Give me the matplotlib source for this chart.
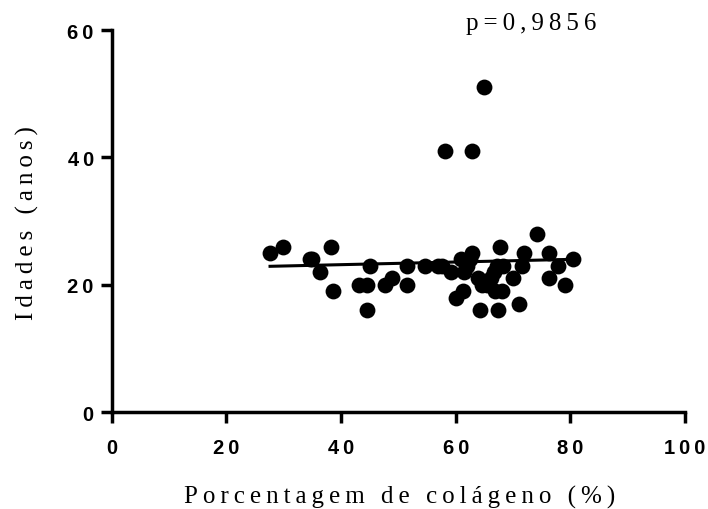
import numpy as np
import matplotlib
matplotlib.use("Agg")
import matplotlib.pyplot as plt

# Collagen percentage vs age
colageno = [27.6, 29.9, 34.5, 35.0, 36.4, 38.3, 38.5, 43.2, 44.6, 44.5,
            45.0, 47.6, 48.8, 51.5, 51.5, 54.6, 56.9, 58.1, 57.6, 59.2,
            60.1, 61.3, 60.9, 61.5, 61.9, 62.5, 62.8, 62.9, 65.0, 63.9,
            64.3, 64.5, 65.4, 66.2, 66.6, 66.8, 67.2, 67.7, 67.4, 68.0,
            68.2, 70.0, 71.0, 71.6, 71.9, 74.1, 76.3, 76.3, 77.8, 79.0,
            80.5]
idades = [25, 26, 24, 24, 22, 26, 19, 20, 20, 16,
          23, 20, 21, 23, 20, 23, 23, 41, 23, 22,
          18, 19, 24, 22, 23, 24, 25, 41, 51, 21,
          16, 20, 20, 21, 22, 19, 23, 26, 16, 19,
          23, 21, 17, 23, 25, 28, 21, 25, 23, 20,
          24]

# Linear regression line end points
reta_x = [27.6, 80.6]
reta_y = [22.9, 24.0]

x_ticks = [0, 20, 40, 60, 80, 100]
y_ticks = [0, 20, 40, 60]
x_label = "Porcentagem de colágeno (%)"
y_label = "Idades (anos)"
p_text = "p=0,9856"

THIN = "\u2009"


def tracked(s):
    return THIN.join(s)


fig = plt.figure(figsize=(7.08, 5.10), dpi=100)
ax = fig.add_axes([0.158, 0.190, 0.8095, 0.749])

ax.scatter(colageno, idades, s=130, color="black", zorder=3, linewidths=0)
ax.plot(reta_x, reta_y, color="black", lw=2.2, zorder=2)

ax.set_xlim(0, 100)
ax.set_ylim(0, 60)
for side in ("top", "right"):
    ax.spines[side].set_visible(False)
for side in ("left", "bottom"):
    ax.spines[side].set_linewidth(2.5)
    ax.spines[side].set_capstyle("projecting")
ax.tick_params(axis="x", direction="out", length=8, width=2.5, pad=11)
ax.tick_params(axis="y", direction="out", length=8, width=2.5, pad=5)
ax.set_xticks(x_ticks)
ax.set_yticks(y_ticks)
tick_font = dict(family="Liberation Sans", weight="bold", size=14.5)
ax.set_xticklabels([tracked(str(t)) for t in x_ticks], **tick_font)
ax.set_yticklabels([tracked(str(t)) for t in y_ticks], **tick_font)

label_font = dict(family="Liberation Serif", size=18)
ax.set_xlabel(tracked(x_label), **label_font)
ax.xaxis.label.set_verticalalignment("baseline")
ax.xaxis.set_label_coords(0.5026, -0.2356)

ax.set_ylabel(tracked(y_label), rotation_mode="anchor", **label_font)
ax.yaxis.label.set_verticalalignment("baseline")
ax.yaxis.label.set_horizontalalignment("center")
ax.yaxis.set_label_coords(-0.137, 0.4987)

ax.text(0.7313, 1.0026, tracked(p_text), transform=ax.transAxes,
        ha="center", va="baseline", **label_font)

fig.savefig("out.png", dpi=100)
